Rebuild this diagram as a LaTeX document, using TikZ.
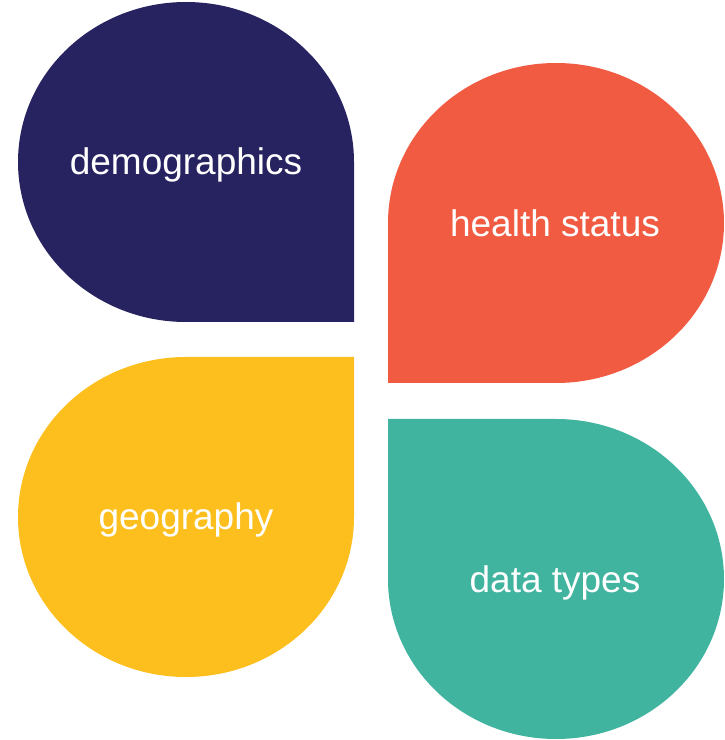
\documentclass[tikz,border=0pt]{standalone}
\usepackage{fontspec}
\setmainfont{Liberation Sans}
\usepackage{tikz}
\usepackage{xcolor}

\definecolor{navy}{HTML}{272360}
\definecolor{coral}{HTML}{F15B42}
\definecolor{sun}{HTML}{FCBF1D}
\definecolor{teal}{HTML}{41B4A0}

\begin{document}
\begin{tikzpicture}[x=1pt, y=1pt,
    petal/.style={draw=none},
    petaltext/.style={text=white, anchor=base, inner sep=0pt,
      font=\fontsize{37}{44}\selectfont}]
    \useasboundingbox (0,0) rectangle (724,740);

    % demographics petal (sharp corner bottom right)
    \fill[petal, navy] (354,418) -- (354,578) arc (0:180:168 and 160)
        arc (180:270:168 and 160) -- cycle;
    \node[petaltext] (demo) at (186,565) {demographics};

    % health status petal (sharp corner bottom left)
    \fill[petal, coral] (388,357) -- (388,517) arc (180:0:168 and 160)
        arc (0:-90:168 and 160) -- cycle;
    \node[petaltext] (health) at (555,503) {health status};

    % geography petal (sharp corner top right)
    \fill[petal, sun] (354,383) -- (186,383) arc (90:270:168 and 160)
        arc (270:360:168 and 160) -- cycle;
    \node[petaltext] (geo) at (186,210) {geography};

    % data types petal (sharp corner top left)
    \fill[petal, teal] (388,321) -- (556,321) arc (90:-180:168 and 160)
        -- cycle;
    \node[petaltext] (data) at (555,147) {data types};
\end{tikzpicture}
\end{document}
